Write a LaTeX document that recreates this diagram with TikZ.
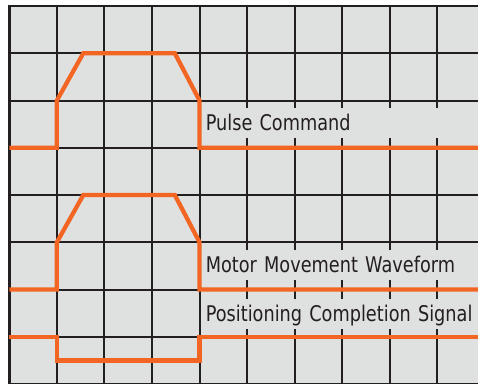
\documentclass[tikz,border=0pt]{standalone}
\usepackage{xcolor}
\usepackage{fontspec}
\setmainfont{DejaVu Sans}[FakeStretch=0.82]
\definecolor{wavecol}{RGB}{242,101,34}
\definecolor{gridbg}{RGB}{223,224,224}
\definecolor{gridcol}{RGB}{35,31,32}

\begin{document}
\begin{tikzpicture}[x=35.67pt, y=-35.44pt,
    gline/.style={draw=gridcol, line width=1.5pt},
    wave/.style={draw=wavecol, line width=3.2pt, line join=miter},
    lbl/.style={fill=gridbg, anchor=west, inner xsep=3pt, inner ysep=0pt,
      minimum height=22.5pt, text height=11.6pt, text depth=0pt,
      text width=212pt, align=left, text=gridcol,
      font=\fontsize{16.2}{19}\selectfont}]
  \useasboundingbox (-0.1955,-0.127) rectangle (9.855,7.979);
  \clip (-0.1955,-0.127) rectangle (9.855,7.979);

  % grid
  \fill[gridbg] (0,0) rectangle (10,8.5);
  \foreach \i in {0,...,10} \draw[gline] (\i,0) -- (\i,8.5);
  \foreach \j in {0,...,8} \draw[gline] (0,\j) -- (10,\j);
  \draw[gline, line width=2pt] (0,8.5) -- (0,0) -- (10,0);

  % labels
  \node[lbl] (pulse) at ([xshift=1.5pt]4,2.48) {Pulse Command};
  \node[lbl] (motor) at ([xshift=1.5pt]4,5.48) {Motor Movement Waveform};
  \node[lbl] (posn)  at ([xshift=1.5pt]4,6.52) {Positioning Completion Signal};

  % waveforms
  \draw[wave] (0,3) -- (1,3) -- (1,2) -- (1.556,1) -- (3.48,1) -- (4,2) -- (4,3) -- (10,3);
  \draw[wave] (0,6) -- (1,6) -- (1,5) -- (1.556,4) -- (3.48,4) -- (4,5) -- (4,6) -- (10,6);
  \draw[wave] (0,7) -- (1,7) -- (1,7.5) -- (4,7.5) -- (4,7) -- (10,7);
\end{tikzpicture}
\end{document}
